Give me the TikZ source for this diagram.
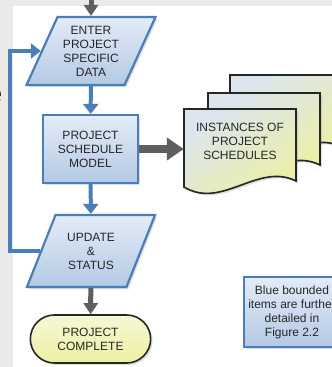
\documentclass[tikz,border=0pt]{standalone}
\usepackage{fontspec}
\setmainfont{Liberation Sans}
\usetikzlibrary{
    arrows.meta,
    shapes.geometric,
    shapes.misc,
    shadows,
    calc,
    positioning
}
\definecolor{edgeblue}{HTML}{4A7EBB}
\definecolor{boxtop}{HTML}{E3ECF7}
\definecolor{boxbottom}{HTML}{B4C9E4}
\definecolor{arrowgray}{HTML}{5F5F5F}
\definecolor{paleyellow}{HTML}{F6F7D6}
\definecolor{docyellow}{HTML}{ECF0A0}
\definecolor{docblue}{HTML}{DCE5EE}
\definecolor{bggray}{HTML}{ECEAE9}
\definecolor{textgray}{HTML}{262626}

\begin{document}
\begin{tikzpicture}[x=1pt, y=-1pt,
    font=\fontsize{12}{14}\selectfont, text=textgray,
    softshadow/.style={drop shadow={shadow xshift=2pt, shadow yshift=-2pt, opacity=.25}},
    bluebox/.style={draw=edgeblue, line width=2.2pt, top color=boxtop, bottom color=boxbottom, align=center, softshadow},
    slanted/.style={bluebox, trapezium, trapezium left angle=63, trapezium right angle=117, trapezium stretches=true, minimum width=129pt, minimum height=68pt},
    termbox/.style={rounded rectangle, draw=black!85, line width=1.6pt, top color=paleyellow, bottom color=docyellow, align=center, minimum width=127pt, minimum height=48pt, softshadow},
    docfill/.style={draw=black!85, line width=1.6pt, top color=docblue, bottom color=docyellow, shading angle=35, softshadow},
    bluearrow/.style={draw=edgeblue, line width=4pt, -{Triangle[width=15pt,length=10pt]}},
    grayarrow/.style={draw=arrowgray, line width=5pt, -{Triangle[width=14pt,length=11pt]}},
    bigarrow/.style={draw=arrowgray, line width=8pt, -{Triangle[width=22pt,length=17pt]}}
]
    \useasboundingbox (0,0) rectangle (332,367);
    \clip (0,0) rectangle (332,367);
    \fill[bggray] (0,0) rectangle (332,367);
    \fill[white] (13,6) rectangle (332,367);
    \node[font=\fontsize{28}{30}\selectfont, text=black!80, anchor=base east] (cut) at (6,103) {e};

    % stacked schedules
    \draw[docfill, shift={(46,-34)}] (184,109) -- (296,109) -- (296,181) .. controls (258,162) and (222,210) .. (184,187) -- cycle;
    \draw[docfill, shift={(24,-16)}] (184,109) -- (296,109) -- (296,181) .. controls (258,162) and (222,210) .. (184,187) -- cycle;
    \draw[docfill] (184,109) -- (296,109) -- (296,181) .. controls (258,162) and (222,210) .. (184,187) -- cycle;
    \node[align=center, minimum width=112pt, minimum height=64pt] (inst) at (240,141) {INSTANCES OF\\PROJECT\\SCHEDULES};

    % main flow
    \node[slanted] (enter) at (91,51) {ENTER\\PROJECT\\SPECIFIC\\DATA};
    \node[bluebox, minimum width=95pt, minimum height=68pt] (sched) at (90.5,149) {PROJECT\\SCHEDULE\\MODEL};
    \node[slanted, minimum height=72pt] (update) at (91,251) {UPDATE\\\&\\STATUS};
    \node[termbox] (done) at (90.5,339) {PROJECT\\COMPLETE};
    \node[bluebox, minimum width=96pt, minimum height=70pt] (note) at (292,312) {Blue bounded\\items are further\\detailed in\\Figure 2.2};

    \coordinate (entry) at (91,-2);
    \draw
    (entry) edge[grayarrow] (enter)
    (enter) edge[bluearrow] (sched)
    (sched) edge[bluearrow] (update)
    (update) edge[grayarrow] (done);
    \draw[bigarrow] (sched.east) -- (sched.east -| inst.west);
    \draw[bluearrow] (update.west) -- ++(-30,0) |- (enter.west);
\end{tikzpicture}
\end{document}
